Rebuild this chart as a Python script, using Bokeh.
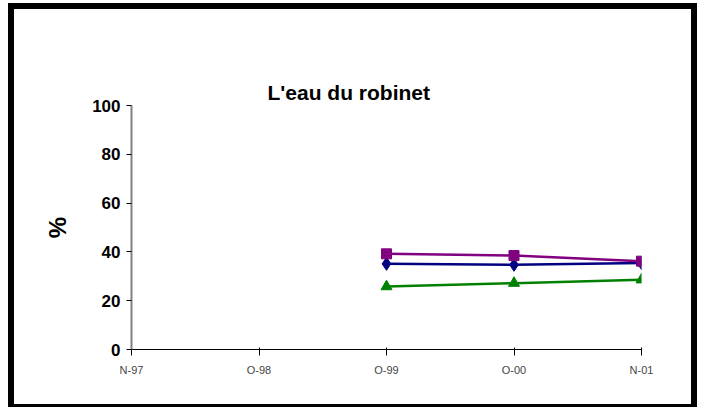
from bokeh.plotting import figure
from bokeh.layouts import column
from bokeh.models import ColumnDataSource, FixedTicker, Range1d, LinearAxis
from bokeh.embed import file_html
from bokeh.resources import INLINE

title = "L'eau du robinet"
categories = ["N-97", "O-98", "O-99", "O-00", "N-01"]
series_x = [2, 3, 4]  # O-99, O-00, N-01 positions in categories
blue_vals = [35.1, 34.7, 35.4]
purple_vals = [39.2, 38.5, 36.2]
green_vals = [25.8, 27.2, 28.6]
y_ticks = [0, 20, 40, 60, 80, 100]

W, H = 677, 395
p = figure(width=W, height=H, output_backend="svg", toolbar_location=None,
           x_range=Range1d(0, len(categories) - 1), y_range=Range1d(0, 100),
           min_border_left=117, min_border_right=50, min_border_top=96, min_border_bottom=55,
           title=title)
p.outline_line_color = None
p.grid.visible = False
p.background_fill_color = "white"
p.border_fill_color = "white"

FONT = "Liberation Sans"
p.title.text_font = FONT
p.title.text_font_style = "bold"
p.title.text_font_size = "21px"
p.title.text_color = "black"
p.title.align = "left"
p.title.offset = 136
p.title.vertical_align = "top"
p.title.standoff = 0

# invisible spacer axis above the frame, so the title sits higher
spacer = LinearAxis(ticker=FixedTicker(ticks=[]), axis_line_color=None,
                    major_tick_line_color=None, minor_tick_line_color=None,
                    major_tick_in=0, major_tick_out=58, minor_tick_out=0,
                    major_label_standoff=0)
p.add_layout(spacer, "above")

for ax in (p.xaxis[0], p.yaxis[0]):
    ax.major_label_text_font = FONT
    ax.major_label_text_font_style = "bold"
    ax.major_label_text_font_size = "17px"
    ax.major_label_text_color = "black"
    ax.major_tick_in = 0
    ax.major_tick_out = 5
    ax.minor_tick_line_color = None
    ax.major_tick_line_color = "black"

xa = p.below[0]
xa.ticker = FixedTicker(ticks=list(range(len(categories))))
xa.major_label_overrides = {i: c for i, c in enumerate(categories)}
xa.axis_line_color = "black"
xa.major_label_standoff = 8

ya = p.left[0]
ya.ticker = FixedTicker(ticks=y_ticks)
ya.axis_line_color = "#808080"
ya.axis_line_width = 2
ya.major_label_standoff = 6
ya.axis_label = "%"
ya.axis_label_text_font = FONT
ya.axis_label_text_font_style = "bold"
ya.axis_label_text_font_size = "24px"
ya.axis_label_text_color = "black"
ya.axis_label_standoff = 18

src = ColumnDataSource(dict(x=series_x, blue=blue_vals, purple=purple_vals, green=green_vals))
p.line("x", "blue", source=src, line_color="#000080", line_width=2.5)
p.scatter("x", "blue", source=src, marker="diamond", size=13, color="#000080")
p.line("x", "purple", source=src, line_color="#800080", line_width=2.5)
p.scatter("x", "purple", source=src, marker="square", size=10, color="#800080")
p.line("x", "green", source=src, line_color="#008000", line_width=2.5)
p.scatter("x", "green", source=src, marker="triangle", size=11, color="#008000")

layout = column(p, styles={"border": "6px solid black", "margin-left": "8px", "margin-top": "3px"})

open("out.html", "w").write(file_html(layout, INLINE))
